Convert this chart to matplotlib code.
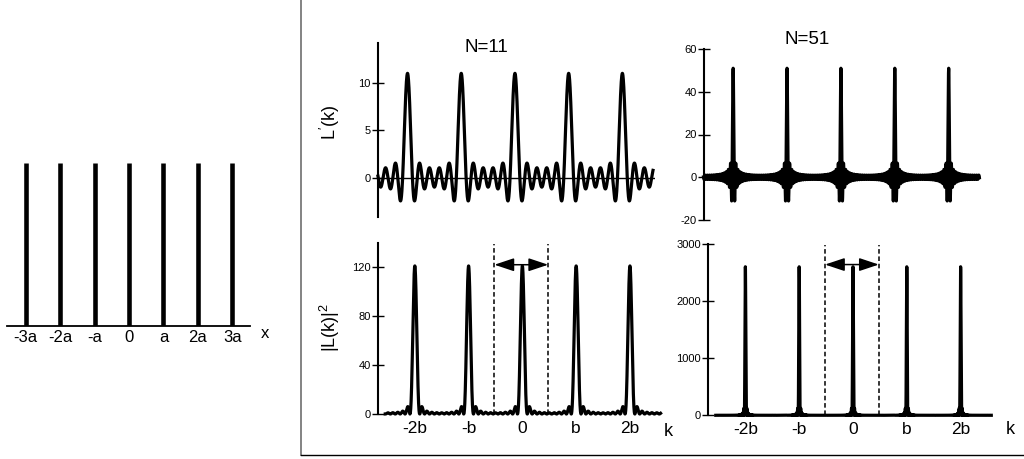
import numpy as np
import matplotlib.pyplot as plt
from matplotlib.lines import Line2D

plt.rcParams['font.family'] = ['Liberation Sans', 'DejaVu Sans']
plt.rcParams['mathtext.fontset'] = 'custom'
plt.rcParams['mathtext.rm'] = 'Liberation Sans'
plt.rcParams['mathtext.it'] = 'Liberation Sans:italic'
plt.rcParams['axes.unicode_minus'] = False

# -----------------------------
# Data
# -----------------------------
# real-space lattice (positions in units of a)
lattice_pos = [-3, -2, -1, 0, 1, 2, 3]
lattice_labels = ["-3a", "-2a", "-a", "0", "a", "2a", "3a"]

# reciprocal space (positions in units of b = 2*pi/a)
k_pos = [-2, -1, 0, 1, 2]
k_labels = ["-2b", "-b", "0", "b", "2b"]
k_range = [-2.55, 2.57]          # where the curves start / stop
zone_edges = [-0.52, 0.48]       # dashed lines (first zone)

# number of lattice points for the two columns
N_values = [11, 51]
titles = ["N=11", "N=51"]

amp_ticks = [[0, 5, 10], [-20, 0, 20, 40, 60]]
amp_ylim = [(-4.15, 14.2), (-20, 60)]
int_ticks = [[0, 40, 80, 120], [0, 1000, 2000, 3000]]
int_ylim = [(0, 140), (0, 3000)]
arrow_y = [122, 2640]
dash_top = [139, 2990]

# -----------------------------
# Layout helpers (pixel boxes on a 1024x459 canvas)
# -----------------------------
W, H = 1024, 459


def box(l, t, r, b):
    return [l / W, 1 - b / H, (r - l) / W, (b - t) / H]


fig = plt.figure(figsize=(10.24, 4.59), dpi=100)

# -----------------------------
# Left: the lattice comb
# -----------------------------
ax0 = fig.add_axes(box(7, 163, 250, 326))
ax0.vlines(lattice_pos, 0, 1, color='black', lw=3.3)
ax0.set_xlim(-3.54, 3.51)
ax0.set_ylim(0, 1)
for s in ['top', 'right', 'left']:
    ax0.spines[s].set_visible(False)
ax0.spines['bottom'].set_linewidth(1.3)
ax0.set_yticks([])
ax0.set_xticks(lattice_pos)
ax0.set_xticklabels(lattice_labels, fontsize=12)
ax0.tick_params(axis='x', length=0, pad=3)
fig.text(265 / W, 1 - 333 / H, "x", fontsize=12, ha='center', va='center')

# -----------------------------
# Right: L'(k) and |L(k)|^2
# -----------------------------
top_boxes = [box(377.7, 43, 654.6, 217), box(703.5, 49, 981.0, 220)]
bot_boxes = [box(377.7, 242.7, 662.2, 414), box(707.7, 244, 992.9, 415.3)]
top_xlim = [(-2.555, 2.6), (-2.55, 2.6)]
bot_xlim = [(-2.69, 2.6), (-2.70, 2.6)]

u = np.linspace(k_range[0], k_range[1], 40001)


def lattice_sum(N, u):
    den = np.sin(np.pi * u)
    num = np.sin(N * np.pi * u)
    with np.errstate(divide='ignore', invalid='ignore'):
        val = num / den
    return np.where(np.abs(den) < 1e-9, float(N), val)


def style_y(ax, ticks):
    for s in ['top', 'right', 'bottom']:
        ax.spines[s].set_visible(False)
    ax.spines['left'].set_linewidth(1.5)
    ax.set_yticks(ticks)
    ax.tick_params(axis='y', direction='inout', length=8, width=1,
                   labelsize=8, pad=1)


for i, N in enumerate(N_values):
    L = lattice_sum(N, u)

    # amplitude
    ax = fig.add_axes(top_boxes[i])
    ax.plot(u, L, color='black', lw=2.3, clip_on=False)
    ax.axhline(0, color='black', lw=1)
    ax.set_xlim(*top_xlim[i])
    ax.set_ylim(*amp_ylim[i])
    ax.set_xticks([])
    style_y(ax, amp_ticks[i])

    # intensity
    ax = fig.add_axes(bot_boxes[i])
    ax.plot(u, L ** 2, color='black', lw=2.3, clip_on=False)
    ax.set_xlim(*bot_xlim[i])
    ax.set_ylim(*int_ylim[i])
    style_y(ax, int_ticks[i])
    ax.set_xticks(k_pos)
    ax.set_xticklabels(k_labels, fontsize=12.5)
    ax.tick_params(axis='x', length=0, pad=5)
    ax.vlines(zone_edges, 0, dash_top[i], color='black', lw=1.1,
              linestyles=(0, (3, 1.8)))
    ax.annotate('', xy=(zone_edges[1], arrow_y[i]), xytext=(zone_edges[0], arrow_y[i]),
                arrowprops=dict(arrowstyle='<|-|>,head_length=1.2,head_width=0.4',
                                mutation_scale=10, color='black', lw=1.1,
                                shrinkA=0, shrinkB=0))

# titles, axis labels
fig.text(486 / W, 1 - 47 / H, titles[0], fontsize=13.5, ha='center', va='center')
fig.text(807 / W, 1 - 40 / H, titles[1], fontsize=13.5, ha='center', va='center')
fig.text(330 / W, 1 - 123 / H, r"L$^{\prime}$(k)", fontsize=13, rotation=90,
         ha='center', va='center')
fig.text(330 / W, 1 - 328 / H, r"|L(k)|$^2$", fontsize=13, rotation=90,
         ha='center', va='center')
fig.text(668 / W, 1 - 432 / H, "k", fontsize=13, ha='center', va='center')
fig.text(1010 / W, 1 - 429 / H, "k", fontsize=13, ha='center', va='center')

# frame around the reciprocal-space panels
fig.add_artist(Line2D([300.7 / W, 300.7 / W], [1.0, 1 - 455 / H],
                      transform=fig.transFigure, color='#7a7a7a', lw=1.3))
fig.add_artist(Line2D([300.7 / W, 1.0], [1 - 455 / H, 1 - 455 / H],
                      transform=fig.transFigure, color='black', lw=1))

fig.savefig("out.png", dpi=100)
